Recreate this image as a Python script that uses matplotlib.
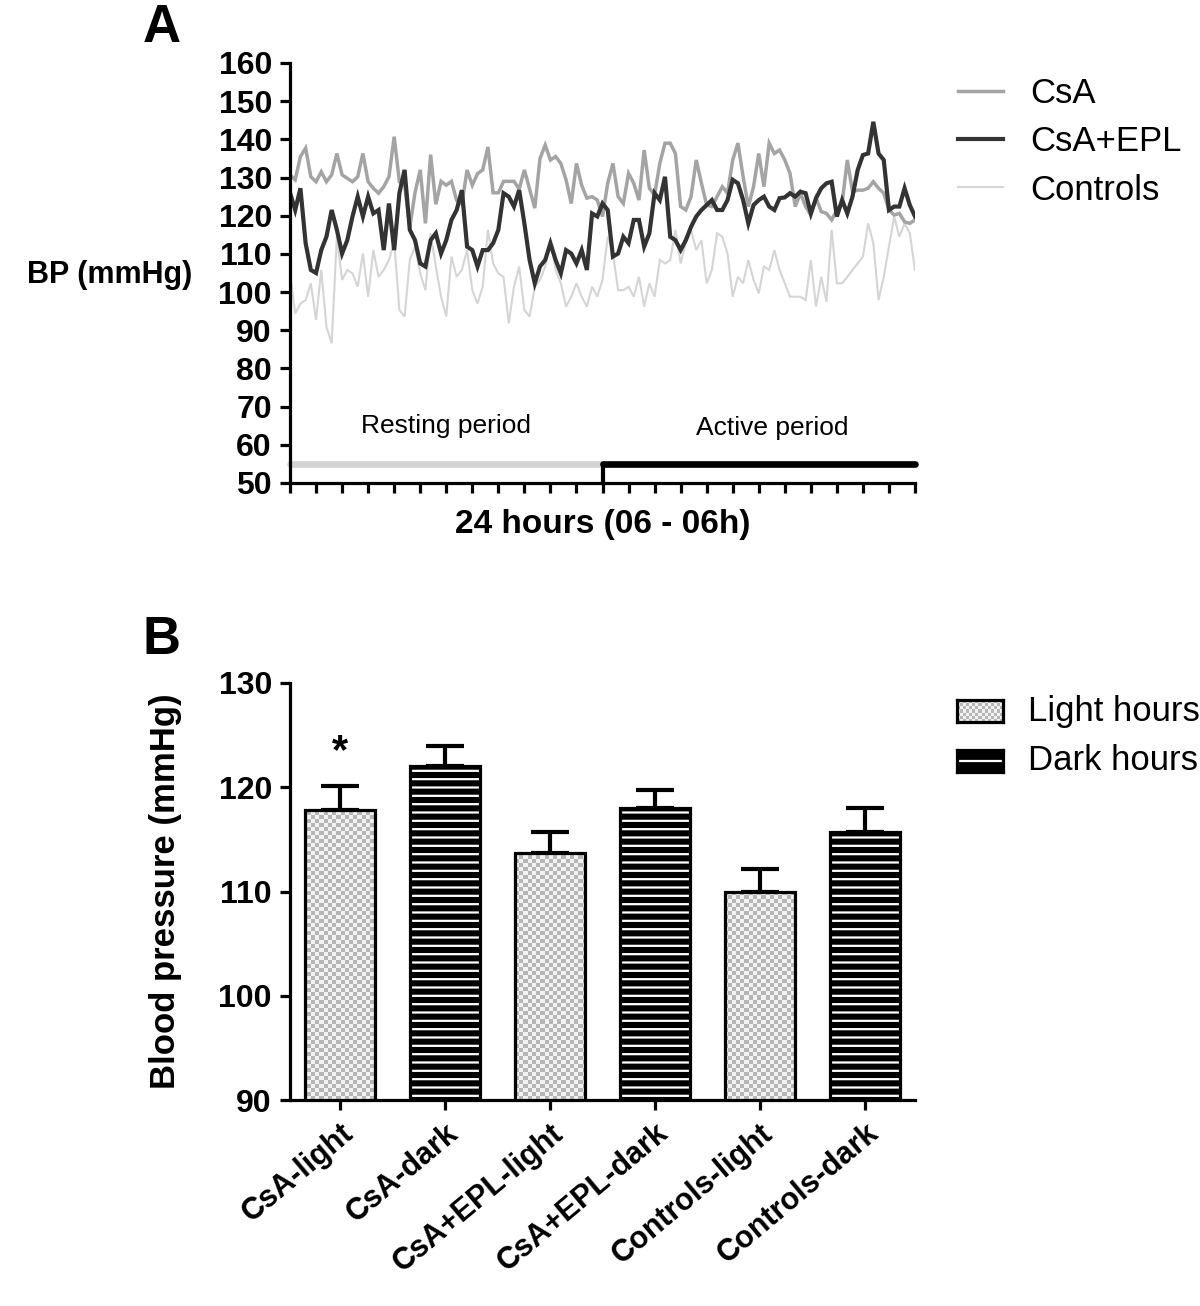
import numpy as np
import matplotlib.pyplot as plt
from matplotlib.colors import ListedColormap

plt.rcParams['font.family'] = ['Liberation Sans', 'DejaVu Sans']
plt.rcParams['hatch.linewidth'] = 1.6

# --- Panel A: 24 h blood pressure, sampled every 12 min (06h - 06h) ---
hours = np.linspace(0, 24, 121)

csa = [130.7, 129.4, 135.5, 137.7, 130.2, 128.9, 131.5, 128.9, 130.7, 136.3,
       130.7, 129.8, 128.9, 130.2, 136.3, 128.9, 127.2, 125.9, 127.6, 130.2,
       140.7, 128.9, 128.0, 117.0, 126.0, 132.0, 118.0, 136.0, 123.0, 129.0,
       128.0, 129.0, 124.0, 123.0, 132.0, 128.0, 131.0, 132.0, 138.0, 126.0,
       126.0, 129.0, 129.0, 129.0, 127.0, 132.0, 127.0, 122.0, 135.0, 138.5,
       134.6, 135.5, 133.7, 129.4, 123.2, 133.7, 128.0, 124.6, 125.0, 124.1,
       119.8, 128.5, 133.7, 125.0, 123.2, 131.1, 128.5, 124.1, 137.2, 127.2,
       125.4, 133.7, 139.0, 139.0, 136.3, 122.4, 121.5, 125.0, 134.6, 128.5,
       122.8, 122.4, 125.0, 127.6, 125.9, 134.6, 139.0, 130.2, 122.4, 127.6,
       136.3, 127.6, 139.0, 136.3, 137.2, 134.6, 131.1, 122.4, 125.9, 122.4,
       120.2, 124.6, 121.1, 120.6, 118.9, 121.5, 123.2, 134.6, 126.3, 126.7,
       126.7, 127.2, 128.9, 127.2, 125.9, 121.5, 120.2, 120.6, 118.4, 118.0,
       118.9]

csa_epl = [126.0, 121.5, 127.2, 112.8, 105.8, 105.0, 111.0, 114.5, 121.5, 116.3,
           110.1, 113.6, 119.8, 125.0, 119.8, 125.0, 120.6, 121.5, 111.0, 123.2,
           111.0, 125.9, 132.0, 116.3, 113.6, 107.5, 106.7, 113.6, 115.4, 110.1,
           113.6, 118.9, 121.5, 126.7, 111.9, 111.0, 106.7, 111.0, 111.0, 112.8,
           116.3, 125.9, 125.0, 122.4, 126.7, 118.0, 108.4, 102.3, 106.7, 108.4,
           112.8, 108.4, 104.9, 111.0, 110.1, 107.5, 111.0, 105.8, 120.6, 119.8,
           123.2, 121.5, 109.3, 110.1, 114.5, 112.8, 118.9, 118.9, 111.9, 115.4,
           125.9, 124.1, 130.2, 114.5, 113.6, 111.0, 113.6, 117.1, 119.8, 121.5,
           122.8, 124.1, 121.5, 121.5, 124.1, 129.4, 128.5, 124.1, 118.0, 122.8,
           124.1, 125.0, 122.4, 121.5, 124.6, 124.8, 125.9, 125.0, 126.3, 125.9,
           120.6, 124.6, 127.2, 128.5, 128.9, 119.8, 124.1, 120.6, 125.0, 132.0,
           135.9, 136.3, 144.6, 136.3, 134.6, 121.5, 122.4, 122.4, 127.2, 122.8,
           119.8]

controls = [104.9, 94.4, 97.0, 97.9, 102.3, 92.7, 105.8, 90.9, 86.6, 114.5,
            103.2, 105.8, 104.9, 101.4, 110.1, 98.8, 111.0, 104.0, 105.8, 108.4,
            113.2, 95.3, 93.6, 108.4, 111.9, 104.9, 100.5, 115.4, 106.7, 98.8,
            93.6, 109.3, 104.0, 105.8, 111.0, 100.5, 97.0, 101.4, 116.3, 107.5,
            104.9, 104.0, 91.8, 101.4, 106.7, 95.3, 93.6, 101.4, 103.2, 106.7,
            113.6, 105.8, 102.3, 96.2, 98.8, 102.3, 98.8, 96.2, 101.4, 98.8,
            103.2, 114.5, 110.1, 100.5, 100.5, 101.4, 98.8, 104.0, 96.2, 102.3,
            98.8, 108.4, 107.5, 108.4, 116.3, 107.5, 112.8, 116.3, 111.0, 113.6,
            102.3, 105.8, 115.4, 114.5, 110.1, 98.8, 104.0, 102.3, 108.4, 103.2,
            99.7, 106.7, 105.8, 111.0, 105.8, 102.3, 98.8, 98.8, 98.8, 97.9,
            108.4, 96.2, 104.0, 97.5, 116.3, 102.3, 102.3, 104.0, 105.8, 107.5,
            109.3, 118.0, 112.8, 97.9, 104.0, 111.9, 119.8, 114.5, 118.0, 115.4,
            105.8]

series_labels = ['CsA', 'CsA+EPL', 'Controls']
series_colors = ['#a4a4a4', '#333333', '#d5d5d5']
series_widths = [2.5, 3.0, 1.5]

period_split = 12  # lights off at 18h
period_level = 55

# --- Panel B: mean BP in light vs dark hours ---
bar_labels = ['CsA-light', 'CsA-dark', 'CsA+EPL-light', 'CsA+EPL-dark',
              'Controls-light', 'Controls-dark']
bar_means = [117.8, 122.0, 113.7, 118.0, 110.0, 115.7]
bar_sem = [2.3, 2.0, 2.0, 1.7, 2.2, 2.3]
bar_is_light = [True, False, True, False, True, False]

W, H = 1200, 1306
fig = plt.figure(figsize=(W / 100, H / 100), dpi=100)

checker_cmap = ListedColormap(['#b6b6b6', '#f2f2f2'])


def checker(ny, nx):
    return np.add.outer(np.arange(ny), np.arange(nx)) % 2


def style_axes(ax):
    for side in ['top', 'right']:
        ax.spines[side].set_visible(False)
    for side in ['left', 'bottom']:
        ax.spines[side].set_linewidth(2.3)
    ax.tick_params(direction='out', length=7, width=2.3, pad=6)


# ---------------- Panel A ----------------
axA = fig.add_axes([290 / W, 1 - 483 / H, 625 / W, 420 / H])
style_axes(axA)
order = [2, 0, 1]  # controls under, CsA+EPL on top
data = [csa, csa_epl, controls]
lines = {}
for i in order:
    ln, = axA.plot(hours, data[i], color=series_colors[i], lw=series_widths[i],
                   label=series_labels[i], solid_joinstyle='miter')
    lines[i] = ln

axA.plot([0, period_split], [period_level, period_level], color='#d3d3d3',
         lw=4.8, solid_capstyle='round', clip_on=False)
axA.plot([period_split, 24], [period_level, period_level], color='black',
         lw=4.8, solid_capstyle='round', clip_on=False)
axA.plot([period_split, period_split], [50, period_level], color='black',
         lw=3, clip_on=False)
axA.text(6.0, 65, 'Resting period', ha='center', va='center', fontsize=19)
axA.text(18.5, 64.5, 'Active period', ha='center', va='center', fontsize=19)

axA.set_xlim(0, 24)
axA.set_ylim(50, 160)
axA.set_xticks(np.arange(0, 25, 1))
axA.set_xticklabels([])
axA.set_yticks(np.arange(50, 161, 10))
for lab in axA.get_yticklabels():
    lab.set_fontweight('bold')
    lab.set_fontsize(23)
axA.set_xlabel('24 hours (06 - 06h)', fontsize=24, fontweight='bold', labelpad=6)
fig.text(192 / W, 1 - 275 / H, 'BP (mmHg)', fontsize=22, fontweight='bold',
         va='center', ha='right')
fig.text(143 / W, 1 - 28 / H, 'A', fontsize=38, fontweight='bold', va='center')

fig.legend([lines[0], lines[1], lines[2]], series_labels, loc='upper left',
           bbox_to_anchor=(958 / W, 1 - 77 / H), frameon=False, fontsize=25,
           handlelength=1.3, handletextpad=0.78, labelspacing=0.44,
           borderpad=0, borderaxespad=0)

# ---------------- Panel B ----------------
axB = fig.add_axes([290 / W, 1 - 1100 / H, 625 / W, 417 / H])
style_axes(axB)
x = np.arange(len(bar_labels))
xlim = (-0.476, 5.476)
ylim = (90, 130)
tex = checker(104, 150)
for xi, m, light in zip(x, bar_means, bar_is_light):
    if light:
        b = axB.bar(xi, m, width=0.667, facecolor='none', edgecolor='black',
                    lw=2.3, zorder=3)[0]
        im = axB.imshow(tex, cmap=checker_cmap, extent=(xlim[0], xlim[1], ylim[0], ylim[1]),
                        aspect='auto', interpolation='nearest', zorder=2)
        im.set_clip_path(b)
    else:
        axB.bar(xi, m, width=0.667, color='black', edgecolor='white',
                hatch='--', lw=0, zorder=2)
        axB.bar(xi, m, width=0.667, fill=False, edgecolor='black', lw=2.3, zorder=3)

axB.errorbar(x, bar_means, yerr=[np.zeros(len(x)), bar_sem], fmt='none',
             ecolor='black', elinewidth=3, capsize=14, capthick=3, zorder=1)
axB.text(x[0], 123.4, '*', ha='center', va='center', fontsize=30, fontweight='bold')

axB.set_xlim(*xlim)
axB.set_ylim(*ylim)
axB.set_yticks(np.arange(90, 131, 10))
axB.set_xticks(x)
axB.set_xticklabels(bar_labels, rotation=40, ha='right', rotation_mode='anchor',
                    fontsize=22, fontweight='bold')
for lab in axB.get_yticklabels():
    lab.set_fontweight('bold')
    lab.set_fontsize(23)
axB.set_ylabel('Blood pressure (mmHg)', fontsize=25, fontweight='bold', labelpad=26)
fig.text(143 / W, 1 - 640 / H, 'B', fontsize=38, fontweight='bold', va='center')

# legend swatches for panel B
sw1 = fig.add_axes([957 / W, 1 - 722 / H, 46 / W, 22 / H])
sw1.imshow(checker(7, 15), cmap=checker_cmap, aspect='auto', interpolation='nearest')
sw2 = fig.add_axes([957 / W, 1 - 772 / H, 46 / W, 22 / H])
sw2.set_facecolor('black')
sw2.set_xlim(0, 1)
sw2.set_ylim(0, 1)
sw2.axhline(0.5, color='white', lw=1.6)
for sw in (sw1, sw2):
    sw.set_xticks([])
    sw.set_yticks([])
    for s in sw.spines.values():
        s.set_linewidth(2.3)
fig.text(1028 / W, 1 - 711 / H, 'Light hours', fontsize=25, va='center')
fig.text(1028 / W, 1 - 761 / H, 'Dark hours', fontsize=25, va='center')

fig.savefig('out.png', dpi=100)
